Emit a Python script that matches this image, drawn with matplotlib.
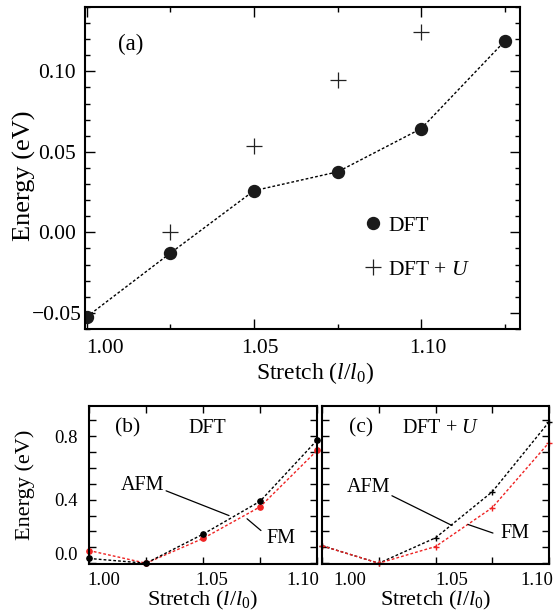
import numpy as np
import matplotlib
matplotlib.use("Agg")
from matplotlib import pyplot as plt
from matplotlib.transforms import ScaledTranslation
from matplotlib.ticker import MultipleLocator

plt.rcParams['font.family'] = 'Liberation Serif'
plt.rcParams['mathtext.fontset'] = 'custom'
plt.rcParams['mathtext.rm'] = 'Liberation Serif'
plt.rcParams['mathtext.it'] = 'Liberation Serif:italic'
plt.rcParams['axes.linewidth'] = 1.5

# (a) energy difference vs stretch
stretch = [1.00, 1.025, 1.05, 1.075, 1.10, 1.125]
e_dft = [-0.0525, -0.0129, 0.0259, 0.0376, 0.0645, 0.1189]
stretch_u = [1.025, 1.05, 1.075, 1.10]
e_dftu = [0.0, 0.0535, 0.0944, 0.1245]

# (b) DFT, AFM / FM
s_b = [1.00, 1.025, 1.05, 1.075, 1.10]
afm_b = [0.03, 0.0, 0.183, 0.39, 0.775]
fm_b = [0.08, 0.0, 0.156, 0.355, 0.71]

# (c) DFT + U, AFM / FM
s_c = [1.00, 1.025, 1.05, 1.075, 1.10]
afm_c = [0.11, 0.0, 0.16, 0.45, 0.89]
fm_c = [0.11, 0.0, 0.105, 0.35, 0.76]

fig = plt.figure(figsize=(5.53, 6.14), dpi=100)


def shift(lbl, dx, dy):
    lbl.set_transform(lbl.get_transform() + ScaledTranslation(dx / 72, dy / 72, fig.dpi_scale_trans))


def style(ax, major_len, minor_len, size):
    ax.tick_params(which='both', direction='in', top=True, right=True, width=1.0, labelsize=size)
    ax.tick_params(which='major', length=major_len)
    ax.tick_params(which='minor', length=minor_len)


def leader(ax, p0, p1):
    ax.annotate('', xy=p1, xytext=p0,
                arrowprops=dict(arrowstyle='-', color='k', lw=0.9, shrinkA=0, shrinkB=0))


# ---- top panel ----
ax = fig.add_axes([0.1537, 0.4642, 0.7866, 0.5244])
ax.plot(stretch, e_dft, color='k', lw=1, ls=(0, (2, 1.5)))
ax.plot(stretch, e_dft, 'o', color='#1a1a1a', ms=8.6, label='DFT')
ax.plot(stretch_u, e_dftu, '+', color='#222222', ms=11, mew=0.9, label='DFT + $U$')
ax.set_xlim(0.9995, 1.1295)
ax.set_ylim(-0.06, 0.14)
ax.set_xticks([1.00, 1.05, 1.10])
ax.set_xticklabels(['1.00', '1.05', '1.10'])
ax.xaxis.set_minor_locator(MultipleLocator(0.025))
ax.set_yticks([-0.05, 0.00, 0.05, 0.10])
ax.set_yticklabels(['\u22120.05', '0.00', '0.05', '0.10'])
ax.yaxis.set_minor_locator(MultipleLocator(0.01))
style(ax, 7, 3.5, 15.5)
ax.tick_params(axis='x', pad=7)
ax.tick_params(axis='y', pad=20)
for lbl in ax.get_yticklabels():
    lbl.set_ha('center')
xl = ax.get_xticklabels()
xl[0].set_ha('left')
for lbl in xl[1:]:
    shift(lbl, 4.5, 0)
ax.set_xlabel('Stretch ($l/l_0$)', fontsize=17)
ax.xaxis.set_label_coords(0.528, -0.098)
ax.set_ylabel('Energy (eV)', fontsize=19)
ax.yaxis.set_label_coords(-0.112, 0.475)
ax.text(0.075, 0.885, '(a)', transform=ax.transAxes, fontsize=16.5, va='center')
ax.legend(frameon=False, fontsize=15.5, loc='upper left', bbox_to_anchor=(0.615, 0.385),
          handlelength=0.9, handletextpad=0.25, labelspacing=1.1, borderpad=0)

# ---- bottom panels ----
panels = [
    ([0.161, 0.0814, 0.4123, 0.2573], s_b, afm_b, fm_b, 'o', '(b)', 'DFT',
     (1.0233, 0.49), (1.0338, 0.456), (1.0614, 0.30),
     (1.0842, 0.156), (1.0754, 0.206), (1.0693, 0.28)),
    ([0.5823, 0.0814, 0.4105, 0.2573], s_c, afm_c, fm_c, '+', '(c)', 'DFT + $U$',
     (1.0203, 0.48), (1.0308, 0.425), (1.0573, 0.2375),
     (1.085, 0.19), (1.0753, 0.19), (1.0643, 0.244)),
]

for i, (rect, s, afm, fm, mk, tag, title, afm_t, afm_p0, afm_p1, fm_t, fm_p0, fm_p1) in enumerate(panels):
    bx = fig.add_axes(rect)
    if mk == 'o':
        bx.plot(s, fm, color='#ee2222', lw=1, ls=(0, (2, 1.5)), marker='o', ms=3.8, clip_on=False)
        bx.plot(s, afm, color='k', lw=1, ls=(0, (2, 1.5)), marker='o', ms=3.8, clip_on=False)
    else:
        bx.plot(s, afm, color='k', lw=1, ls=(0, (2, 1.5)), marker='+', ms=5, mew=1, clip_on=False)
        bx.plot(s, fm, color='#ee2222', lw=1, ls=(0, (2, 1.5)), marker='+', ms=5, mew=1, clip_on=False)
    bx.set_xlim(1.0, 1.10)
    bx.set_ylim(-0.005, 0.99)
    bx.set_xticks([1.00, 1.05, 1.10])
    bx.set_xticklabels(['1.00', '1.05', '1.10'])
    bx.xaxis.set_minor_locator(MultipleLocator(0.025))
    bx.set_yticks([0.0, 0.4, 0.8])
    bx.set_yticklabels(['0.0', '0.4', '0.8'])
    bx.yaxis.set_minor_locator(MultipleLocator(0.1))
    style(bx, 5, 5, 13.5)
    bx.tick_params(axis='x', pad=6)
    bx.tick_params(axis='y', pad=8)
    xl = bx.get_xticklabels()
    if i == 0:
        shift(xl[0], 11, 0)
        shift(xl[1], 6, 0)
        shift(xl[2], -10, 0)
        shift(bx.get_yticklabels()[0], 0, 7)
    else:
        shift(xl[0], 20, 0)
        shift(xl[1], 12, 0)
        shift(xl[2], -9, 0)
        bx.set_yticklabels([])
    bx.set_xlabel('Stretch ($l/l_0$)', fontsize=16, labelpad=0)
    if i == 0:
        bx.set_ylabel('Energy (eV)', fontsize=16)
        bx.yaxis.set_label_coords(-0.235, 0.5)
    bx.text(0.17, 0.86, tag, transform=bx.transAxes, fontsize=15.5, ha='center', va='center')
    bx.text(0.52, 0.86, title, transform=bx.transAxes, fontsize=14.5, ha='center', va='center')
    bx.text(afm_t[0], afm_t[1], 'AFM', fontsize=14.5, ha='center', va='center')
    bx.text(fm_t[0], fm_t[1], 'FM', fontsize=14.5, ha='center', va='center')
    leader(bx, afm_p0, afm_p1)
    leader(bx, fm_p0, fm_p1)

fig.savefig('out.png', dpi=100)
